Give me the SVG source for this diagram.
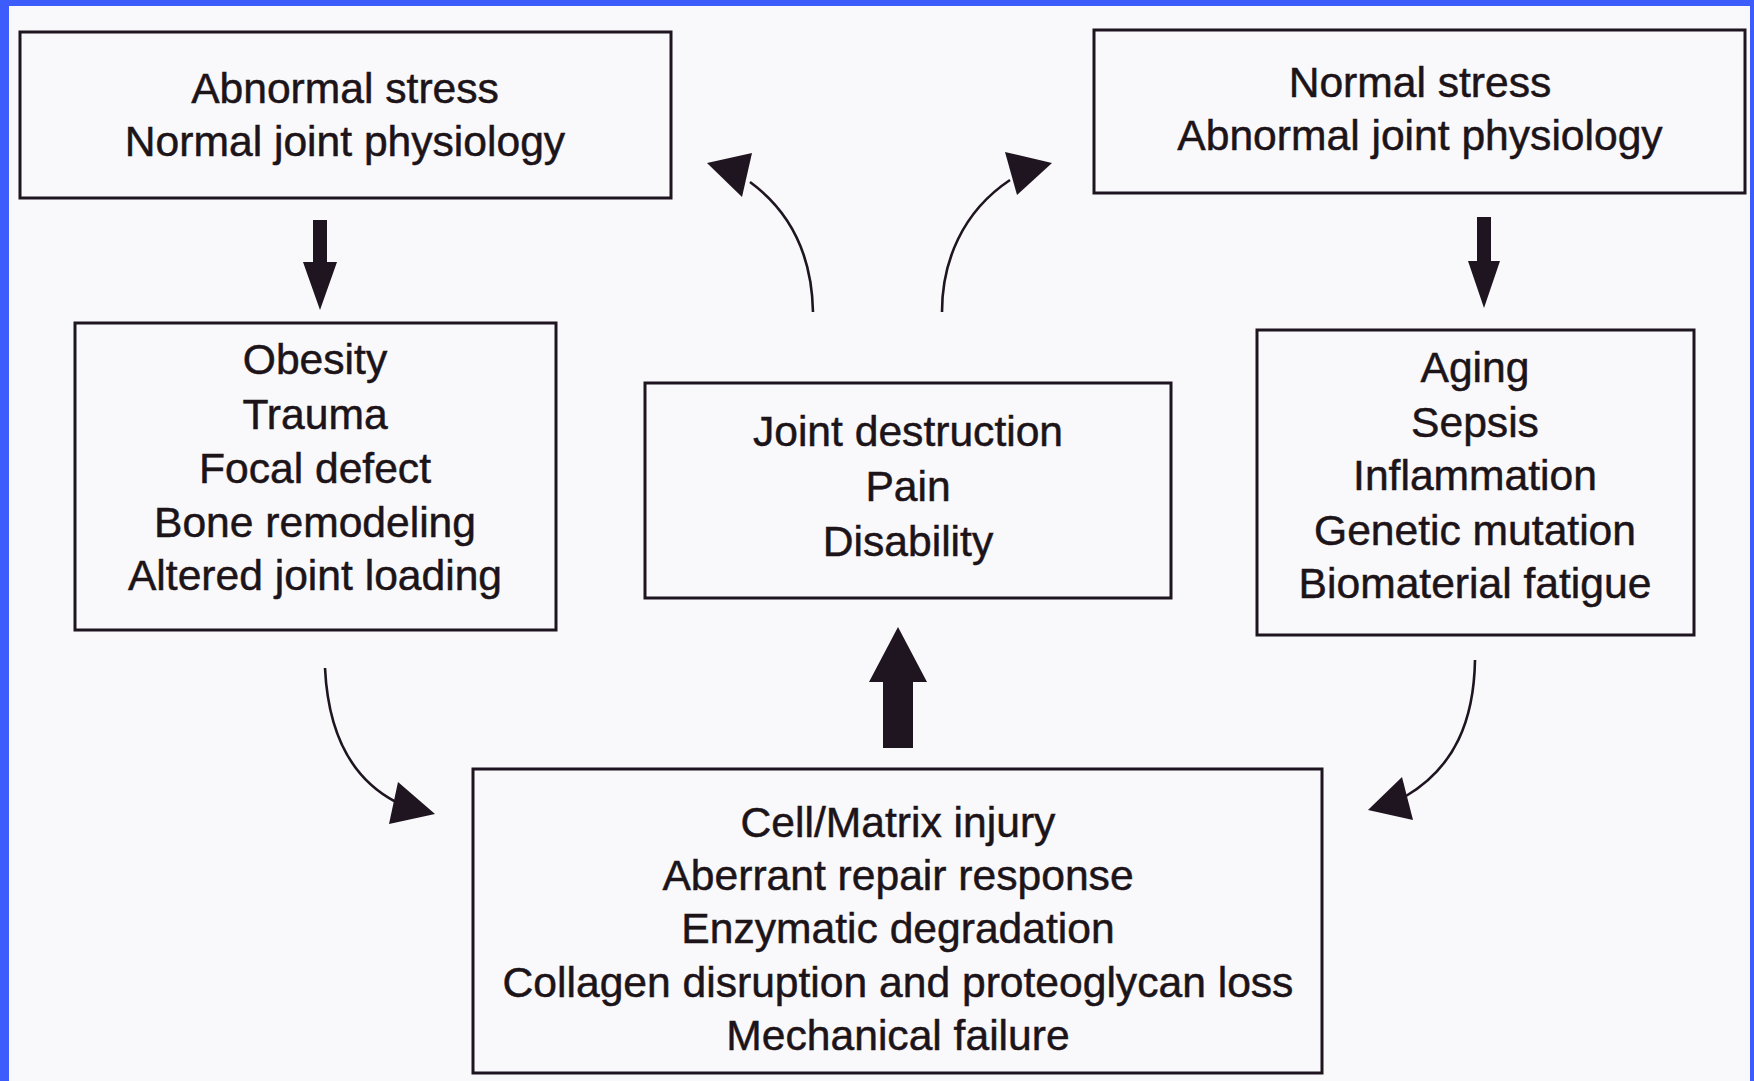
<svg xmlns="http://www.w3.org/2000/svg" width="1754" height="1081" viewBox="0 0 1754 1081">
<style>
.box{fill:none;stroke:#1e1520;stroke-width:3}
.t{font-family:"Liberation Sans",Arial,Helvetica,sans-serif;font-size:42.6px;fill:#1c1418;stroke:#1c1418;stroke-width:0.5;text-anchor:middle}
.curve{fill:none;stroke:#1e1520;stroke-width:2.6}
.head{fill:#1e1520;stroke:none}
</style>
<rect x="0" y="0" width="1754" height="1081" fill="#f9f8fb"/>
<rect x="0" y="0" width="1754" height="6" fill="#3c5dfb"/>
<rect x="0" y="0" width="9" height="1081" fill="#3c5dfb"/>
<rect x="1750" y="0" width="4" height="1081" fill="#3c5dfb"/>

<g id="node-abnormal-stress">
<rect class="box" x="20" y="32" width="651" height="166"/>
<text class="t" x="345" y="103">Abnormal stress</text>
<text class="t" x="345" y="156">Normal joint physiology</text>
</g>

<g id="node-normal-stress">
<rect class="box" x="1094" y="30" width="651" height="163"/>
<text class="t" x="1420" y="97">Normal stress</text>
<text class="t" x="1420" y="150">Abnormal joint physiology</text>
</g>

<g id="node-left-factors">
<rect class="box" x="75" y="323" width="481" height="307"/>
<text class="t" x="315" y="374">Obesity</text>
<text class="t" x="315" y="429">Trauma</text>
<text class="t" x="315" y="483">Focal defect</text>
<text class="t" x="315" y="537">Bone remodeling</text>
<text class="t" x="315" y="590">Altered joint loading</text>
</g>

<g id="node-outcome">
<rect class="box" x="645" y="383" width="526" height="215"/>
<text class="t" x="908" y="446">Joint destruction</text>
<text class="t" x="908" y="501">Pain</text>
<text class="t" x="908" y="556">Disability</text>
</g>

<g id="node-right-factors">
<rect class="box" x="1257" y="330" width="437" height="305"/>
<text class="t" x="1475" y="382">Aging</text>
<text class="t" x="1475" y="437">Sepsis</text>
<text class="t" x="1475" y="490">Inflammation</text>
<text class="t" x="1475" y="545">Genetic mutation</text>
<text class="t" x="1475" y="598">Biomaterial fatigue</text>
</g>

<g id="node-injury">
<rect class="box" x="473" y="769" width="849" height="304"/>
<text class="t" x="898" y="837">Cell/Matrix injury</text>
<text class="t" x="898" y="890">Aberrant repair response</text>
<text class="t" x="898" y="943">Enzymatic degradation</text>
<text class="t" x="898" y="997">Collagen disruption and proteoglycan loss</text>
<text class="t" x="898" y="1050">Mechanical failure</text>
</g>

<g id="connectors">
<polygon class="head" points="313,220 327,220 327,262 337,262 320,310 303,262 313,262"/>
<polygon class="head" points="1477,217 1491,217 1491,261 1500,261 1484,308 1468,261 1477,261"/>
<polygon class="head" points="883,748 913,748 913,682 927,682 898,627 869,682 883,682"/>
<path class="curve" d="M813,312 C812,260 795,215 750,182"/>
<polygon class="head" points="707,163 752,153 742,197"/>
<path class="curve" d="M942,312 C942,262 962,212 1010,180"/>
<polygon class="head" points="1052,163 1005,152 1017,195"/>
<path class="curve" d="M325,668 C328,730 350,778 396,802"/>
<polygon class="head" points="398,782 389,824 435,814"/>
<path class="curve" d="M1475,660 C1474,720 1455,767 1406,796"/>
<polygon class="head" points="1402,777 1413,820 1368,810"/>
</g>
</svg>
